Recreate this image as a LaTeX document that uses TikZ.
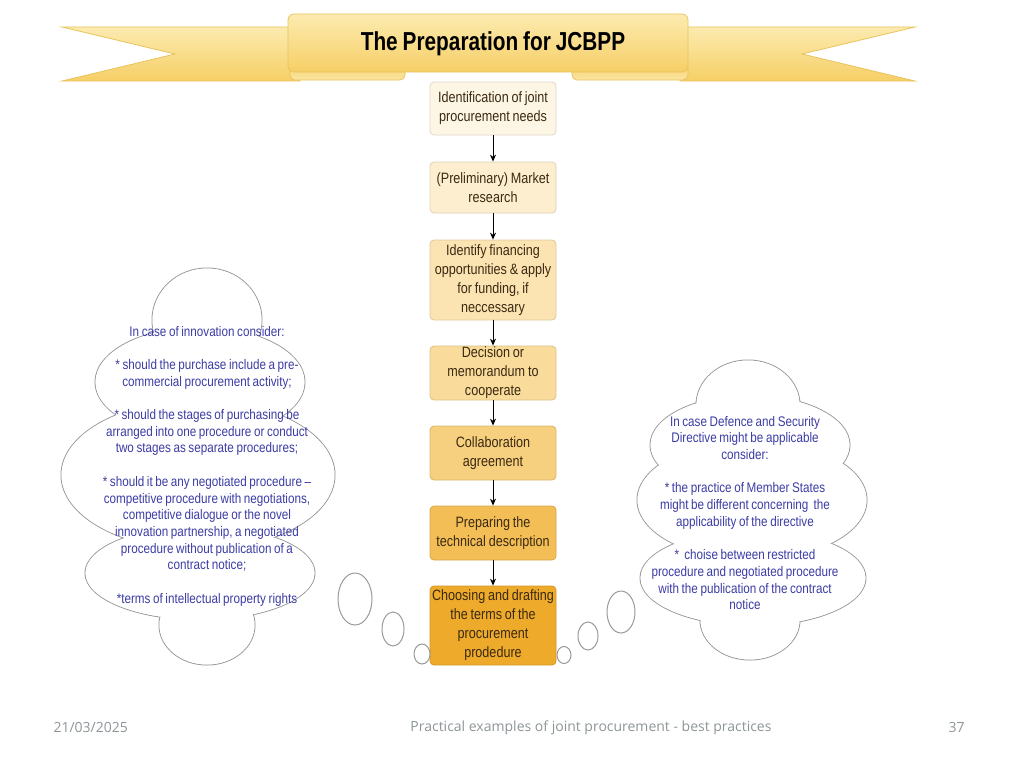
\documentclass[tikz,border=0pt]{standalone}
\usepackage{fontspec}
\setmainfont{Liberation Sans}
\newfontfamily\narrowfont[FakeStretch=0.84,WordSpace=0.8]{Liberation Sans}
\newfontfamily\titlefont[FakeStretch=0.8,WordSpace=0.85]{Liberation Sans}
\newfontfamily\footfont{Open Sans}
\usetikzlibrary{arrows.meta}

\definecolor{ribbonlight}{HTML}{FCEBB0}
\definecolor{ribbondark}{HTML}{F6CF66}
\definecolor{ribbonedge}{HTML}{E8C35E}
\definecolor{boxtext}{HTML}{3B2A12}
\definecolor{cloudtext}{HTML}{3C3CA6}
\definecolor{cloudedge}{HTML}{9A9A9A}
\definecolor{foot}{HTML}{8E9598}
\definecolor{stepA}{HTML}{FDF6E4}
\definecolor{stepB}{HTML}{FCEECE}
\definecolor{stepC}{HTML}{FBE3B2}
\definecolor{stepD}{HTML}{F9DC9B}
\definecolor{stepE}{HTML}{F6D07E}
\definecolor{stepF}{HTML}{F3BE56}
\definecolor{stepG}{HTML}{EEAA2A}

\tikzset{
  stage/.style={fill=#1, draw=#1!88!black, rounded corners=4pt, line width=0.8pt,
    minimum width=126pt, inner sep=1pt, align=center,
    text=boxtext, font=\narrowfont\fontsize{15}{19}\selectfont},
  flow/.style={-{Stealth[length=7pt,width=6pt]}, line width=1pt, black},
  cloudline/.style={draw=cloudedge, line width=1pt},
  cloudtxt/.style={align=center, text=cloudtext, font=\narrowfont\fontsize{13.9}{16.7}\selectfont},
  footer/.style={text=foot, font=\footfont\fontsize{14}{16}\selectfont}
}

\begin{document}
\begin{tikzpicture}[x=1pt,y=-1pt]
\useasboundingbox (0,0) rectangle (1024,768);

% ribbon tails
\shade[top color=ribbonlight, bottom color=ribbondark, draw=ribbonedge, line width=0.8pt]
  (62,27) -- (300,27) -- (300,81) -- (62,81) -- (175,54) -- cycle;
\shade[top color=ribbonlight, bottom color=ribbondark, draw=ribbonedge, line width=0.8pt]
  (915,27) -- (680,27) -- (680,81) -- (915,81) -- (802,54) -- cycle;
% folds under the banner
\shade[top color=ribbondark, bottom color=ribbonlight!80!ribbondark, draw=ribbonedge, line width=0.8pt,
  rounded corners=5pt] (290,62) rectangle (405,80);
\shade[top color=ribbondark, bottom color=ribbonlight!80!ribbondark, draw=ribbonedge, line width=0.8pt,
  rounded corners=5pt] (572,62) rectangle (688,80);
\fill[white] (406,75) rectangle (571,82);
% banner
\shade[top color=ribbonlight, bottom color=ribbondark, draw=ribbonedge, line width=0.8pt,
  rounded corners=6pt] (288,14) rectangle (688,72);
\node (title) at (493,44) {\titlefont\bfseries\fontsize{26}{28}\selectfont The Preparation for JCBPP};

% process steps
\node[stage=stepA, minimum height=53pt] (s1) at (493,108.5)
  {Identification of joint\\procurement needs};
\node[stage=stepB, minimum height=51pt] (s2) at (493,187.5)
  {(Preliminary) Market\\research};
\node[stage=stepC, minimum height=80pt] (s3) at (493,280)
  {Identify financing\\opportunities \& apply\\for funding, if\\neccessary};
\node[stage=stepD, minimum height=54pt] (s4) at (493,373)
  {Decision or\\memorandum to\\cooperate};
\node[stage=stepE, minimum height=54pt] (s5) at (493,453)
  {Collaboration\\agreement};
\node[stage=stepF, minimum height=54pt] (s6) at (493,533)
  {Preparing the\\technical description};
\node[stage=stepG, minimum height=79pt] (s7) at (493,625.5)
  {Choosing and drafting\\the terms of the\\procurement\\prodedure};

\foreach \a/\b in {s1/s2,s2/s3,s3/s4,s4/s5,s5/s6,s6/s7}
  \draw[flow] (\a) -- (\b);

% left cloud
\foreach \cx/\cy/\rx/\ry in {207/320/55/52, 200/382/105/55, 198/475/137/75, 200/573/115/47, 207/625/48/40}
  \draw[cloudline] (\cx,\cy) ellipse [x radius=\rx, y radius=\ry];
\foreach \cx/\cy/\rx/\ry in {207/320/55/52, 200/382/105/55, 198/475/137/75, 200/573/115/47, 207/625/48/40}
  \fill[white] (\cx,\cy) ellipse [x radius=\rx-0.5, y radius=\ry-0.5];
% right cloud
\foreach \cx/\cy/\rx/\ry in {748/405/52/45, 750/445/100/50, 752/500/115/60, 753/578/113/48, 750/620/50/40}
  \draw[cloudline] (\cx,\cy) ellipse [x radius=\rx, y radius=\ry];
\foreach \cx/\cy/\rx/\ry in {748/405/52/45, 750/445/100/50, 752/500/115/60, 753/578/113/48, 750/620/50/40}
  \fill[white] (\cx,\cy) ellipse [x radius=\rx-0.5, y radius=\ry-0.5];
% thought bubbles
\foreach \cx/\cy/\rx/\ry in {355/599/17/26, 393/629/11/17, 422/654/8/10, 564/655/7/8.5, 588/636/10/14, 621/612/14/21}
  \draw[cloudline, fill=white] (\cx,\cy) ellipse [x radius=\rx, y radius=\ry];

\node[cloudtxt] (innovation) at (207,466) {In case of innovation consider:\\[16.7pt]
  * should the purchase include a pre-\\commercial procurement activity;\\[16.7pt]
  * should the stages of purchasing be\\arranged into one procedure or conduct\\two stages as separate procedures;\\[16.7pt]
  * should it be any negotiated procedure –\\competitive procedure with negotiations,\\competitive dialogue or the novel\\innovation partnership, a negotiated\\procedure without publication of a\\contract notice;\\[16.7pt]
  *terms of intellectual property rights};
\node[cloudtxt] (defence) at (745,513) {In case Defence and Security\\Directive might be applicable\\consider:\\[16.7pt]
  * the practice of Member States\\might be different concerning\ \ the\\applicability of the directive\\[16.7pt]
  *\ \ choise between restricted\\procedure and negotiated procedure\\with the publication of the contract\\notice};

% footer
\node[footer, anchor=west] (date) at (50,727) {21/03/2025};
\node[footer] (topic) at (591,728) {Practical examples of joint procurement - best practices};
\node[footer, anchor=west] (page) at (945,727) {37};
\end{tikzpicture}
\end{document}
